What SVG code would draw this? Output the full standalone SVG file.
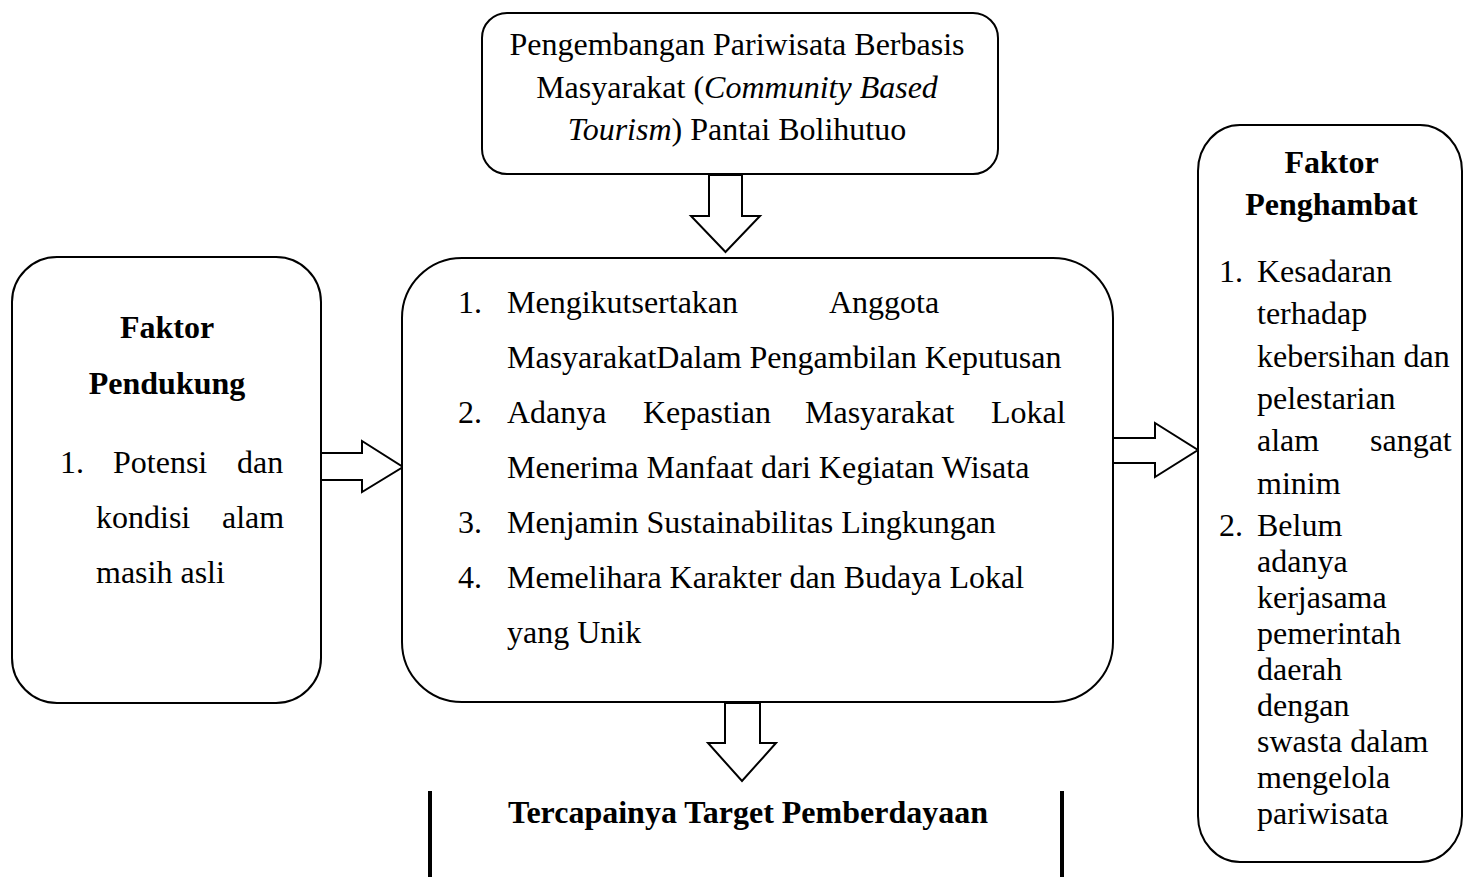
<svg xmlns="http://www.w3.org/2000/svg" width="1468" height="877" viewBox="0 0 1468 877">
<style>
.box{fill:#fff;stroke:#000;stroke-width:2}
.arr{fill:#fff;stroke:#000;stroke-width:2;stroke-linejoin:miter}
.t{font-family:"Liberation Serif","Times New Roman",serif;font-size:32px;fill:#000}
.b{font-weight:bold}
.i{font-style:italic}
.m{text-anchor:middle}
</style>
<rect width="1468" height="877" fill="#fff"/>
<g id="connectors">
<polygon class="arr" points="709,175 742,175 742,216 760,216 725.5,252 691,216 709,216"/>
<polygon class="arr" points="321,453 362,453 362,441 403,467 362,492 362,480 321,480"/>
<polygon class="arr" points="1113,438 1155,438 1155,423 1198,450 1155,477 1155,463 1113,463"/>
<polygon class="arr" points="725,703 760,703 760,743 776,743 742,781 708,743 725,743"/>
</g>
<g id="node-top">
<rect class="box" x="482" y="13" width="516" height="161" rx="25" ry="25"/>
<text class="t m" x="737" y="55">Pengembangan Pariwisata Berbasis</text>
<text class="t m" x="737" y="98">Masyarakat (<tspan class="i">Community Based</tspan></text>
<text class="t m" x="737" y="140"><tspan class="i">Tourism</tspan>) Pantai Bolihutuo</text>
</g>
<g id="node-center">
<rect class="box" x="402" y="258" width="711" height="444" rx="60" ry="60"/>
<text class="t" x="458" y="313">1.</text>
<text class="t" x="507" y="313">Mengikutsertakan</text>
<text class="t" x="829" y="313">Anggota</text>
<text class="t" x="507" y="368">MasyarakatDalam Pengambilan Keputusan</text>
<text class="t" x="458" y="423">2.</text>
<text class="t" x="507" y="423">Adanya</text>
<text class="t" x="643" y="423">Kepastian</text>
<text class="t" x="805" y="423">Masyarakat</text>
<text class="t" x="991" y="423">Lokal</text>
<text class="t" x="507" y="478">Menerima Manfaat dari Kegiatan Wisata</text>
<text class="t" x="458" y="533">3.</text>
<text class="t" x="507" y="533">Menjamin Sustainabilitas Lingkungan</text>
<text class="t" x="458" y="588">4.</text>
<text class="t" x="507" y="588">Memelihara Karakter dan Budaya Lokal</text>
<text class="t" x="507" y="643">yang Unik</text>
</g>
<g id="node-pendukung">
<rect class="box" x="12" y="257" width="309" height="446" rx="45" ry="45"/>
<text class="t b m" x="167" y="338">Faktor</text>
<text class="t b m" x="167" y="394">Pendukung</text>
<text class="t" x="60" y="473">1.</text>
<text class="t" x="113" y="473">Potensi</text>
<text class="t" x="237" y="473">dan</text>
<text class="t" x="96" y="528">kondisi</text>
<text class="t" x="222" y="528">alam</text>
<text class="t" x="96" y="583">masih asli</text>
</g>
<g id="node-penghambat">
<rect class="box" x="1198" y="125" width="264" height="737" rx="42" ry="46"/>
<text class="t b m" x="1331.5" y="173">Faktor</text>
<text class="t b m" x="1331.5" y="215">Penghambat</text>
<text class="t" x="1219" y="282">1.</text>
<text class="t" x="1257" y="282">Kesadaran</text>
<text class="t" x="1257" y="324">terhadap</text>
<text class="t" x="1257" y="367">kebersihan dan</text>
<text class="t" x="1257" y="409">pelestarian</text>
<text class="t" x="1257" y="451">alam</text>
<text class="t" x="1370" y="451">sangat</text>
<text class="t" x="1257" y="494">minim</text>
<text class="t" x="1219" y="536">2.</text>
<text class="t" x="1257" y="536">Belum</text>
<text class="t" x="1257" y="572">adanya</text>
<text class="t" x="1257" y="608">kerjasama</text>
<text class="t" x="1257" y="644">pemerintah</text>
<text class="t" x="1257" y="680">daerah</text>
<text class="t" x="1257" y="716">dengan</text>
<text class="t" x="1257" y="752">swasta dalam</text>
<text class="t" x="1257" y="788">mengelola</text>
<text class="t" x="1257" y="824">pariwisata</text>
</g>
<g id="node-target">
<line x1="430" y1="791" x2="430" y2="877" stroke="#000" stroke-width="4"/>
<line x1="1062" y1="791" x2="1062" y2="877" stroke="#000" stroke-width="4"/>
<text class="t b m" x="748" y="823">Tercapainya Target Pemberdayaan</text>
</g>
</svg>
